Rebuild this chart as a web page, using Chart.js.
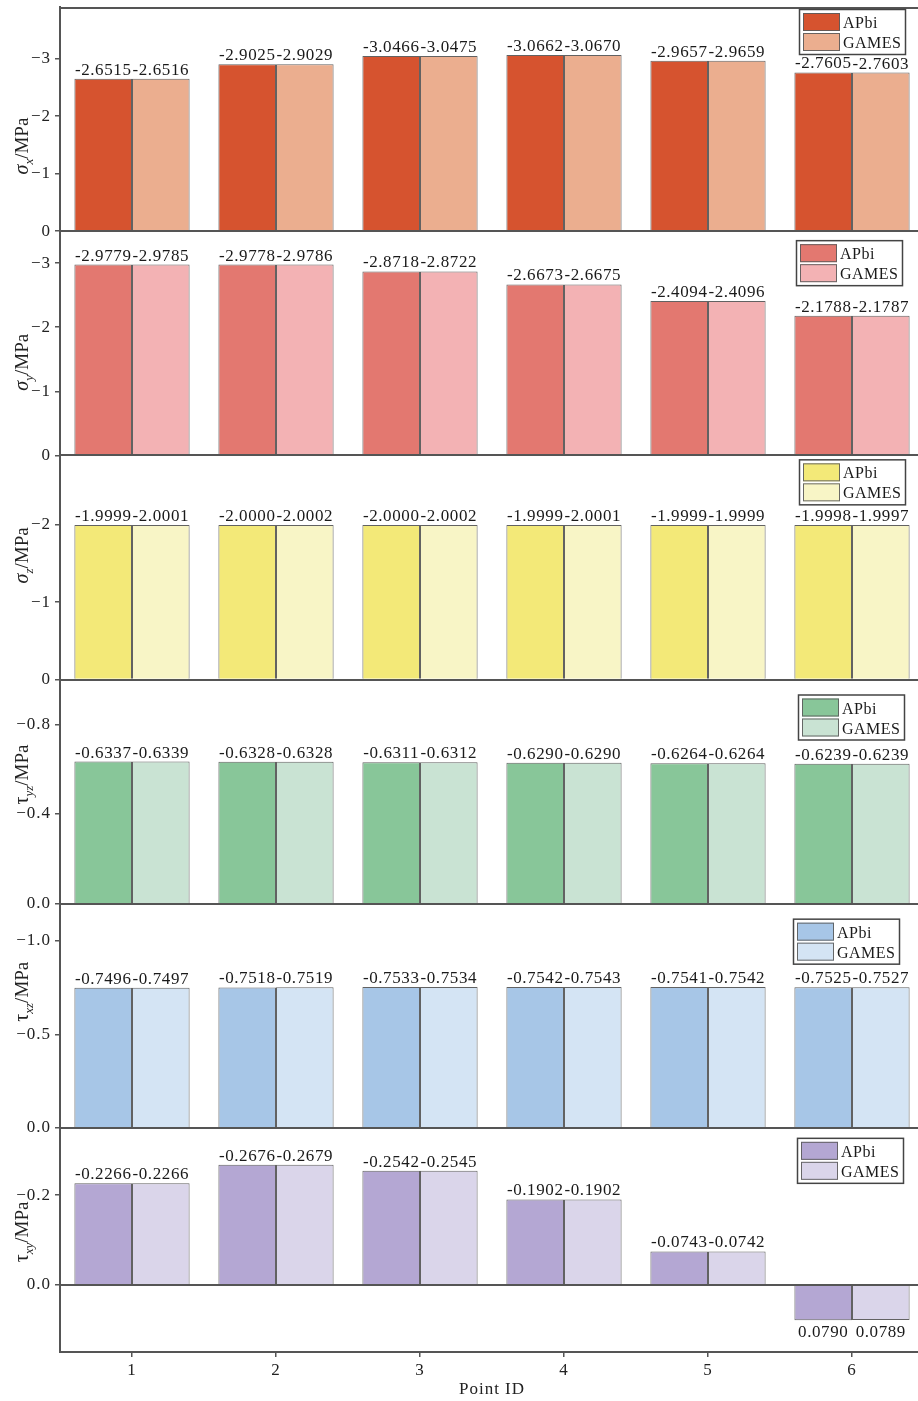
<!DOCTYPE html>
<html>
<head>
<meta charset="utf-8">
<script src="https://cdn.jsdelivr.net/npm/chart.js@4.4.1/dist/chart.umd.min.js"></script>
<style>
  html, body { margin: 0; padding: 0; background: #fff; overflow: hidden; }
  #wrap { width: 918px; height: 1401px; overflow: hidden; position: relative; }
  canvas { display: block; }
</style>
</head>
<body>
<div id="wrap"><canvas id="c" width="924" height="1401"></canvas></div>
<script>
// ---------- data ----------
const categories = ['1', '2', '3', '4', '5', '6'];
const seriesNames = ['APbi', 'GAMES'];

const sigmaX_APbi  = [-2.6515, -2.9025, -3.0466, -3.0662, -2.9657, -2.7605];
const sigmaX_GAMES = [-2.6516, -2.9029, -3.0475, -3.0670, -2.9659, -2.7603];
const sigmaY_APbi  = [-2.9779, -2.9778, -2.8718, -2.6673, -2.4094, -2.1788];
const sigmaY_GAMES = [-2.9785, -2.9786, -2.8722, -2.6675, -2.4096, -2.1787];
const sigmaZ_APbi  = [-1.9999, -2.0000, -2.0000, -1.9999, -1.9999, -1.9998];
const sigmaZ_GAMES = [-2.0001, -2.0002, -2.0002, -2.0001, -1.9999, -1.9997];
const tauYZ_APbi   = [-0.6337, -0.6328, -0.6311, -0.6290, -0.6264, -0.6239];
const tauYZ_GAMES  = [-0.6339, -0.6328, -0.6312, -0.6290, -0.6264, -0.6239];
const tauXZ_APbi   = [-0.7496, -0.7518, -0.7533, -0.7542, -0.7541, -0.7525];
const tauXZ_GAMES  = [-0.7497, -0.7519, -0.7534, -0.7543, -0.7542, -0.7527];
const tauXY_APbi   = [-0.2266, -0.2676, -0.2542, -0.1902, -0.0743, 0.0790];
const tauXY_GAMES  = [-0.2266, -0.2679, -0.2545, -0.1902, -0.0742, 0.0789];

// tick labels (values) per panel
const ticksSigmaX = [0, -1, -2, -3];
const ticksSigmaY = [0, -1, -2, -3];
const ticksSigmaZ = [0, -1, -2];
const ticksTauYZ  = [0, -0.4, -0.8];
const ticksTauXZ  = [0, -0.5, -1.0];
const ticksTauXY  = [0, -0.2];

// axis ranges per panel
const rangeSigmaX = [-3.9, 0];
const rangeSigmaY = [-3.5, 0];
const rangeSigmaZ = [-2.9, 0];
const rangeTauYZ  = [-1.0, 0];
const rangeTauXZ  = [-1.2, 0];
const rangeTauXY  = [-0.35, 0.15];

// ---------- styles / layout ----------
const FONT = 'Liberation Serif';
const panels = [
  { id: 'y1', a: sigmaX_APbi, g: sigmaX_GAMES, ticks: ticksSigmaX, range: rangeSigmaX, dec: 0,
    colors: ['#D6532F', '#EBAE8F'], sym: 'σ', symItalic: true, sub: 'x' },
  { id: 'y2', a: sigmaY_APbi, g: sigmaY_GAMES, ticks: ticksSigmaY, range: rangeSigmaY, dec: 0,
    colors: ['#E37870', '#F3B2B4'], sym: 'σ', symItalic: true, sub: 'y' },
  { id: 'y3', a: sigmaZ_APbi, g: sigmaZ_GAMES, ticks: ticksSigmaZ, range: rangeSigmaZ, dec: 0,
    colors: ['#F3E978', '#F8F5C6'], sym: 'σ', symItalic: true, sub: 'z' },
  { id: 'y4', a: tauYZ_APbi, g: tauYZ_GAMES, ticks: ticksTauYZ, range: rangeTauYZ, dec: 1,
    colors: ['#88C699', '#C9E3D3'], sym: 'τ', symItalic: false, sub: 'yz' },
  { id: 'y5', a: tauXZ_APbi, g: tauXZ_GAMES, ticks: ticksTauXZ, range: rangeTauXZ, dec: 1,
    colors: ['#A7C6E7', '#D4E4F4'], sym: 'τ', symItalic: false, sub: 'xz' },
  { id: 'y6', a: tauXY_APbi, g: tauXY_GAMES, ticks: ticksTauXY, range: rangeTauXY, dec: 1,
    colors: ['#B4A7D3', '#DAD5EA'], sym: 'τ', symItalic: false, sub: 'xy' }
];
const legendLeft = [799, 796, 799, 798, 793, 797];
const legendTopOffset = [2, 9, 4, 15, 15, 10];
const titleOffset = [27, 19, -12, -17, -24, -8];

Chart.defaults.font.family = FONT;
Chart.defaults.font.size = 17;
Chart.defaults.color = '#222';

const AXIS_COLOR = '#555';
const BAR_BORDER = 'rgba(70,70,70,0.85)';

const datasets = [];
panels.forEach((p) => {
  [p.a, p.g].forEach((vals, k) => {
    datasets.push({
      label: seriesNames[k],
      data: vals,
      yAxisID: p.id,
      stack: k === 0 ? 'A' : 'G',
      backgroundColor: p.colors[k],
      borderColor: BAR_BORDER,
      borderWidth: 1,
      categoryPercentage: 0.8,
      barPercentage: 1.0
    });
  });
});

const scales = {
  x: {
    type: 'category',
    offset: true,
    grid: { offset: false, drawOnChartArea: false, drawTicks: true, tickLength: 5, color: AXIS_COLOR, lineWidth: 1.5 },
    border: { display: true, color: AXIS_COLOR, width: 2 },
    ticks: { font: { size: 17 }, color: '#222', padding: 3, maxRotation: 0 },
    title: { display: true, text: 'Point ID', font: { size: 17 }, color: '#222', padding: { top: 0, bottom: 1 } },
    afterFit: (s) => { s.height = 49; s.paddingLeft = 0; s.paddingRight = 0; }
  }
};
panels.forEach((p, i) => {
  scales[p.id] = {
    type: 'linear',
    position: 'left',
    stack: 'panels',
    stackWeight: 1,
    weight: 10 - i,
    reverse: true,
    stacked: false,
    min: p.range[0],
    max: p.range[1],
    grid: { drawOnChartArea: false, drawTicks: true, tickLength: 5, color: AXIS_COLOR, lineWidth: 1.5 },
    border: { display: true, color: AXIS_COLOR, width: 2 },
    ticks: {
      font: { size: 17 }, color: '#222', padding: 4,
      callback: (v) => (v === 0 ? (p.dec ? '0.0' : '0') : (v < 0 ? '\u2212' : '') + Math.abs(v).toFixed(p.dec))
    },
    afterBuildTicks: (s) => { s.ticks = p.ticks.map((v) => ({ value: v })); },
    afterFit: (s) => { s.width = 60; s.paddingTop = 0; s.paddingBottom = 0; }
  };
});

const decorPlugin = {
  id: 'decor',
  beforeDraw(chart) {
    try { chart.ctx.letterSpacing = '1px'; } catch (e) {}
  },
  afterDatasetsDraw(chart) {
    const ctx = chart.ctx;
    const area = chart.chartArea;
    ctx.save();
    // value labels
    try { ctx.letterSpacing = '0.6px'; } catch (e) {}
    ctx.font = '17px "' + FONT + '"';
    ctx.fillStyle = '#1a1a1a';
    ctx.textAlign = 'center';
    chart.data.datasets.forEach((ds, di) => {
      const meta = chart.getDatasetMeta(di);
      meta.data.forEach((bar, j) => {
        const v = ds.data[j];
        const txt = v.toFixed(4);
        if (v < 0) {
          ctx.textBaseline = 'alphabetic';
          ctx.fillText(txt, bar.x, bar.y - 4);
        } else {
          ctx.textBaseline = 'top';
          ctx.fillText(txt, bar.x, bar.y + 4);
        }
      });
    });
    // horizontal frame lines (top border + zero line of each panel)
    ctx.strokeStyle = AXIS_COLOR;
    ctx.lineWidth = 2;
    ctx.beginPath();
    ctx.moveTo(area.left, area.top + 1);
    ctx.lineTo(area.right, area.top + 1);
    panels.forEach((p) => {
      const sc = chart.scales[p.id];
      const y = Math.round(sc.getPixelForValue(0));
      ctx.moveTo(area.left, y);
      ctx.lineTo(area.right, y);
    });
    ctx.stroke();

    panels.forEach((p, i) => {
      const sc = chart.scales[p.id];
      // legend
      const lx = legendLeft[i];
      const ly = sc.top + legendTopOffset[i];
      ctx.fillStyle = '#fff';
      ctx.fillRect(lx, ly, 106, 45);
      ctx.strokeStyle = '#444';
      ctx.lineWidth = 1.5;
      ctx.strokeRect(lx + 0.5, ly + 0.5, 106, 45);
      seriesNames.forEach((name, k) => {
        const ry = ly + 4 + k * 20;
        ctx.fillStyle = p.colors[k];
        ctx.fillRect(lx + 4, ry, 37, 18);
        ctx.strokeStyle = 'rgba(90,90,90,0.9)';
        ctx.lineWidth = 1;
        ctx.strokeRect(lx + 4.5, ry + 0.5, 36, 17);
        ctx.fillStyle = '#1a1a1a';
        ctx.font = '16px "' + FONT + '"';
        try { ctx.letterSpacing = '0.5px'; } catch (e) {}
        ctx.textAlign = 'left';
        ctx.textBaseline = 'alphabetic';
        ctx.fillText(name, lx + 44, ry + 15);
      });
      // y axis title (rotated)
      try { ctx.letterSpacing = '0px'; } catch (e) {}
      const cy = (sc.top + sc.bottom) / 2 + titleOffset[i];
      const parts = [
        { text: p.sym, font: (p.symItalic ? 'italic ' : '') + '20px "' + FONT + '"', dy: 0 },
        { text: p.sub, font: 'italic 13px "' + FONT + '"', dy: 5 },
        { text: '/MPa', font: '19px "' + FONT + '"', dy: 0 }
      ];
      let total = 0;
      parts.forEach((pt) => { ctx.font = pt.font; pt.w = ctx.measureText(pt.text).width; total += pt.w; });
      ctx.save();
      ctx.translate(28, cy);
      ctx.rotate(-Math.PI / 2);
      ctx.fillStyle = '#222';
      ctx.textAlign = 'left';
      ctx.textBaseline = 'alphabetic';
      let x = -total / 2;
      parts.forEach((pt) => { ctx.font = pt.font; ctx.fillText(pt.text, x, pt.dy); x += pt.w; });
      ctx.restore();
    });
    ctx.restore();
  }
};

new Chart(document.getElementById('c'), {
  type: 'bar',
  data: { labels: categories, datasets: datasets },
  options: {
    responsive: false,
    animation: false,
    devicePixelRatio: 1,
    layout: { padding: { top: 7, left: 0, right: 0, bottom: 0 } },
    plugins: { legend: { display: false }, tooltip: { enabled: false } },
    scales: scales
  },
  plugins: [decorPlugin]
});
</script>
</body>
</html>
